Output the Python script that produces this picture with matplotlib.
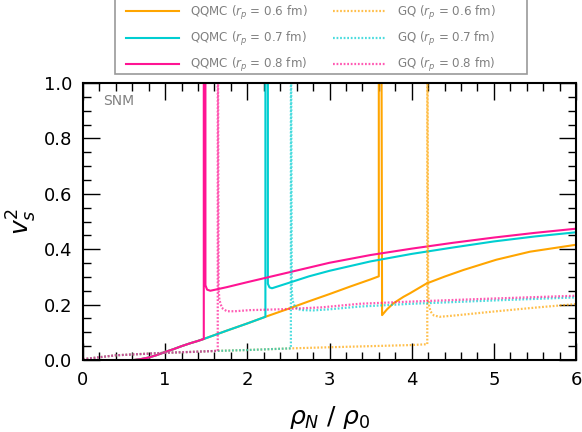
import matplotlib
matplotlib.use("Agg")
import matplotlib.pyplot as plt
from matplotlib.patches import Rectangle
from matplotlib.ticker import MultipleLocator

# shared hadronic branch (QQMC), rho_N / rho_0 -> v_s^2
qqmc_nuc_rho = [0.62, 0.7, 0.8, 0.9, 1.0, 1.1, 1.2, 1.3, 1.4, 1.47,
                1.75, 2.0, 2.22, 2.5, 2.75, 3.0, 3.25, 3.5, 3.61]
qqmc_nuc_vs2 = [0.0, 0.003, 0.009, 0.018, 0.029, 0.039, 0.050, 0.060, 0.069, 0.076,
                0.106, 0.132, 0.156, 0.185, 0.212, 0.238, 0.265, 0.291, 0.303]

# shared hadronic branch (GQ)
gq_nuc_rho = [0.0, 0.2, 0.4, 0.6, 0.8, 1.0, 1.3, 1.64, 2.0, 2.53, 3.0, 3.5, 4.0, 4.19]
gq_nuc_vs2 = [0.003, 0.010, 0.017, 0.020, 0.023, 0.026, 0.029, 0.033, 0.036,
              0.042, 0.046, 0.050, 0.054, 0.057]

# branches after the transition (first point = jump, 1.5 = off the top)
qqmc_06_rho = [3.60, 3.60, 3.63, 3.64, 3.7, 3.78, 3.9, 3.98, 4.18, 4.4, 4.63, 5.03, 5.44, 6.0]
qqmc_06_vs2 = [0.302, 1.5, 1.5, 0.162, 0.183, 0.205, 0.228, 0.241, 0.276, 0.301,
               0.325, 0.362, 0.391, 0.416]
qqmc_07_rho = [2.22, 2.22, 2.25, 2.25, 2.27, 2.3, 2.5, 2.75, 3.0, 3.5, 4.0, 4.5, 5.0, 5.5, 6.0]
qqmc_07_vs2 = [0.156, 1.5, 1.5, 0.275, 0.262, 0.259, 0.278, 0.302, 0.322, 0.356,
               0.383, 0.406, 0.428, 0.446, 0.461]
qqmc_08_rho = [1.47, 1.47, 1.49, 1.49, 1.51, 1.55, 1.75, 2.0, 2.5, 3.0, 3.5, 4.0, 4.5, 5.0, 5.5, 6.0]
qqmc_08_vs2 = [0.076, 1.5, 1.5, 0.27, 0.254, 0.250, 0.263, 0.281, 0.316, 0.351,
               0.379, 0.402, 0.423, 0.442, 0.459, 0.474]

gq_06_rho = [4.19, 4.19, 4.2, 4.21, 4.23, 4.27, 4.34, 4.5, 5.0, 5.5, 6.0]
gq_06_vs2 = [0.057, 1.5, 0.26, 0.2, 0.175, 0.161, 0.156, 0.160, 0.175, 0.189, 0.202]
gq_07_rho = [2.53, 2.53, 2.54, 2.55, 2.58, 2.62, 2.68, 2.8, 3.0, 3.37, 4.0, 5.0, 6.0]
gq_07_vs2 = [0.042, 1.5, 0.26, 0.215, 0.192, 0.183, 0.180, 0.179, 0.183, 0.193,
             0.203, 0.215, 0.226]
gq_08_rho = [1.64, 1.64, 1.65, 1.66, 1.69, 1.75, 1.85, 2.03, 2.4, 2.9, 3.37, 4.0, 5.0, 6.0]
gq_08_vs2 = [0.033, 1.5, 0.26, 0.217, 0.188, 0.176, 0.176, 0.180, 0.183, 0.190,
             0.203, 0.211, 0.222, 0.232]

radii = ["0.6", "0.7", "0.8"]
colors = ["#FFA500", "#00CED1", "#FF1493"]


def join(nuc_rho, nuc_vs2, rho, vs2):
    keep = [i for i, r in enumerate(nuc_rho) if r < rho[0]]
    return ([nuc_rho[i] for i in keep] + rho,
            [nuc_vs2[i] for i in keep] + vs2)


fig = plt.figure(figsize=(5.82, 4.32), dpi=100)
ax = fig.add_axes([83 / 582, 1 - 360 / 432, 493 / 582, 277 / 432])

qqmc = [(qqmc_06_rho, qqmc_06_vs2), (qqmc_07_rho, qqmc_07_vs2), (qqmc_08_rho, qqmc_08_vs2)]
gq = [(gq_06_rho, gq_06_vs2), (gq_07_rho, gq_07_vs2), (gq_08_rho, gq_08_vs2)]

for (rho, vs2), r, c in zip(qqmc, radii, colors):
    x, y = join(qqmc_nuc_rho, qqmc_nuc_vs2, rho, vs2)
    ax.plot(x, y, color=c, lw=1.5, label=r"QQMC ($r_p$ = " + r + " fm)")

for (rho, vs2), r, c in zip(gq, radii, colors):
    x, y = join(gq_nuc_rho, gq_nuc_vs2, rho, vs2)
    ax.plot(x, y, color=c, lw=1.6, dashes=(0.8, 0.8), alpha=0.7,
            label=r"GQ ($r_p$ = " + r + " fm)")

ax.set_xlim(0, 6)
ax.set_ylim(0, 1)
ax.xaxis.set_major_locator(MultipleLocator(1))
ax.xaxis.set_minor_locator(MultipleLocator(0.2))
ax.yaxis.set_major_locator(MultipleLocator(0.2))
ax.yaxis.set_minor_locator(MultipleLocator(0.05))

ax.tick_params(which="both", direction="in", top=True, right=True, width=1)
ax.tick_params(which="major", length=12, labelsize=13, pad=8)
ax.tick_params(which="minor", length=6)
for s in ax.spines.values():
    s.set_linewidth(1.5)

ax.set_xlabel(r"$\rho_N$ / $\rho_0$", fontsize=18, labelpad=11)
ax.set_ylabel(r"$v_s^2$", fontsize=18, labelpad=3)

ax.text(0.04, 0.935, "SNM", transform=ax.transAxes, color="grey",
        fontsize=10, ha="left", va="center")

# legend box (drawn separately, it is wider than the entries)
fig.patches.append(Rectangle((115 / 582, 1 - 74 / 432), 412 / 582, 80 / 432,
                             transform=fig.transFigure, facecolor="white",
                             edgecolor="#999999", lw=1.2, zorder=0))

fig.legend(loc="lower left", bbox_to_anchor=(126 / 582, 1 - 74 / 432),
           ncol=2, fontsize=8.6, handlelength=4.43, handletextpad=0.92,
           columnspacing=2.1, labelspacing=0.68, borderaxespad=0,
           borderpad=0, frameon=False, labelcolor="grey")

fig.savefig("out.png", dpi=100)
